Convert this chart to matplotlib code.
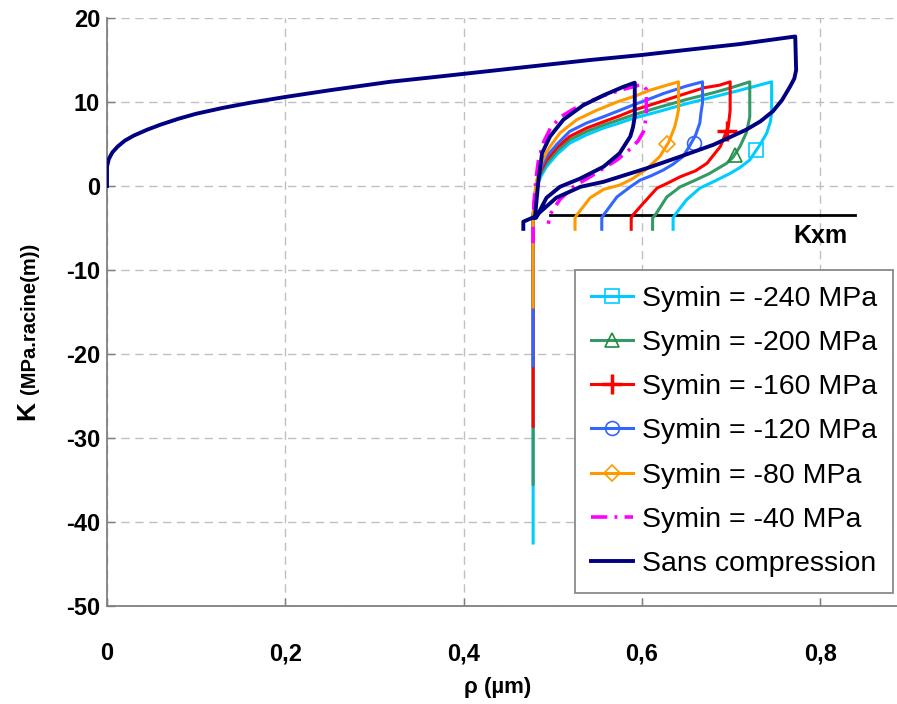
import matplotlib
matplotlib.use("Agg")
import matplotlib.pyplot as plt
import matplotlib.ticker as mticker
from matplotlib.lines import Line2D
import numpy as np

plt.rcParams["font.family"] = ["Liberation Sans", "DejaVu Sans"]
plt.rcParams["axes.unicode_minus"] = False

# ── DONNEES ─────────────────────────────────────
# Sans compression : chargement + déchargement, puis cycle suivant
rho_sans = [0.0, 0.0, 0.002, 0.006, 0.012, 0.02, 0.03, 0.045, 0.06, 0.08,
            0.1, 0.13, 0.16, 0.2, 0.25, 0.317, 0.37, 0.43, 0.49, 0.542,
            0.6, 0.65, 0.71, 0.772,
            0.773, 0.771, 0.766, 0.757, 0.747, 0.733, 0.717, 0.68, 0.643,
            0.605, 0.557, 0.531, 0.504, 0.48, 0.467, 0.467,
            np.nan,
            0.480, 0.482, 0.484, 0.488, 0.497, 0.512, 0.534, 0.557, 0.579, 0.592,
            0.592, 0.590, 0.587, 0.575, 0.557, 0.531, 0.508, 0.493, 0.482]
k_sans = [0.0, 2.3, 3.2, 4.0, 4.7, 5.4, 6.0, 6.7, 7.3, 8.0,
          8.6, 9.3, 9.9, 10.6, 11.4, 12.4, 13.0, 13.7, 14.4, 15.0,
          15.6, 16.2, 16.9, 17.8,
          13.8, 12.8, 11.8, 10.2, 8.9, 7.7, 6.7, 4.9, 3.5,
          2.1, 0.5, -0.1, -1.4, -3.65, -4.25, -5.1,
          np.nan,
          -3.8, -1.5, 0.7, 3.9, 5.9, 7.9, 9.6, 10.8, 11.8, 12.3,
          8.25, 7.0, 5.9, 3.9, 2.3, 0.9, -0.1, -1.4, -3.65]

rho_240 = [0.478, 0.478, 0.480, 0.483, 0.487, 0.493, 0.505, 0.519, 0.538, 0.557,
           0.575, 0.590, 0.620, 0.650, 0.680, 0.710, 0.7455,
           0.7455, 0.744, 0.740, 0.733, 0.726, 0.721, 0.710, 0.699, 0.680, 0.665,
           0.650, 0.637, 0.635, 0.635]
k_240 = [-42.5, -3.5, -1.5, 0.2, 1.2, 2.3, 3.8, 5.1, 6.1, 6.9,
         7.5, 8.05, 8.9, 9.8, 10.6, 11.4, 12.4,
         8.65, 7.6, 6.3, 5.0, 3.9, 3.1, 2.2, 1.5, 0.5, -0.25,
         -1.65, -3.45, -3.8, -5.15]

rho_200 = [0.478, 0.478, 0.480, 0.483, 0.487, 0.493, 0.505, 0.519, 0.538, 0.557,
           0.575, 0.590, 0.620, 0.650, 0.680, 0.700, 0.721,
           0.721, 0.719, 0.717, 0.710, 0.702, 0.695, 0.676, 0.660, 0.643, 0.628,
           0.615, 0.612, 0.612]
k_200 = [-35.5, -3.5, -1.3, 0.5, 1.6, 2.7, 4.2, 5.5, 6.5, 7.26,
         7.9, 8.45, 9.4, 10.3, 11.1, 11.7, 12.4,
         8.25, 7.2, 6.3, 4.7, 3.4, 2.7, 1.5, 0.7, -0.1, -1.3,
         -3.45, -3.8, -5.15]

rho_160 = [0.478, 0.478, 0.480, 0.483, 0.487, 0.493, 0.505, 0.519, 0.538, 0.557,
           0.575, 0.590, 0.620, 0.643, 0.670, 0.687, 0.699,
           0.699, 0.697, 0.693, 0.688, 0.673, 0.660, 0.643, 0.630, 0.617, 0.602,
           0.590, 0.588, 0.588]
k_160 = [-28.6, -3.5, -1.2, 0.7, 1.9, 3.1, 4.6, 5.9, 6.9, 7.65,
         8.35, 9.0, 10.0, 10.8, 11.7, 12.0, 12.4,
         9.05, 7.1, 6.0, 4.7, 2.7, 1.8, 1.1, 0.4, -0.25, -2.0,
         -3.45, -3.8, -5.15]

rho_120 = [0.478, 0.478, 0.480, 0.483, 0.487, 0.493, 0.505, 0.519, 0.538, 0.557,
           0.575, 0.590, 0.607, 0.624, 0.650, 0.668,
           0.668, 0.666, 0.665, 0.660, 0.652, 0.646, 0.635, 0.624, 0.610, 0.598,
           0.587, 0.572, 0.557, 0.555, 0.555]
k_120 = [-21.4, -3.5, -1.0, 0.9, 2.2, 3.5, 5.0, 6.5, 7.5, 8.25,
         9.0, 9.64, 10.3, 11.0, 11.9, 12.4,
         9.9, 8.5, 7.5, 6.0, 4.5, 3.5, 2.6, 1.9, 1.2, 0.7,
         -0.1, -1.3, -3.45, -3.8, -5.15]

rho_80 = [0.478, 0.478, 0.480, 0.483, 0.4875, 0.493, 0.497, 0.508, 0.527, 0.549,
          0.572, 0.592, 0.609, 0.628, 0.641,
          0.641, 0.639, 0.637, 0.630, 0.620, 0.605, 0.590, 0.575, 0.557, 0.542,
          0.527, 0.525, 0.525]
k_80 = [-14.4, -3.5, -0.8, 1.2, 2.8, 4.0, 4.7, 6.3, 7.9, 9.0,
        10.0, 10.7, 11.4, 12.0, 12.4,
        9.05, 8.0, 7.1, 5.2, 3.5, 2.0, 0.9, 0.1, -0.4, -1.4,
        -3.45, -3.8, -5.15]

rho_40 = [0.478, 0.478, 0.480, 0.482, 0.484, 0.490, 0.498, 0.510, 0.524, 0.540,
          0.558, 0.579, 0.600,
          0.605, 0.605, 0.603, 0.596, 0.588, 0.572, 0.545, 0.523, 0.508, 0.497, 0.495]
k_40 = [-6.8, -3.5, -0.5, 1.5, 3.1, 5.3, 7.0, 8.3, 9.2, 10.0,
        10.8, 11.5, 12.1,
        11.5, 9.0, 6.7, 5.4, 4.5, 3.1, 1.3, -0.1, -1.6, -3.4, -4.5]

# position des symboles (un seul par courbe)
marker_rho = [0.728, 0.704, 0.695, 0.658, 0.628]
marker_k = [4.3, 3.7, 6.6, 5.15, 5.0]

kxm_rho = [0.497, 0.839]
kxm_k = [-3.45, -3.45]

labels = ["Symin = -240 MPa", "Symin = -200 MPa", "Symin = -160 MPa",
          "Symin = -120 MPa", "Symin = -80 MPa", "Symin = -40 MPa",
          "Sans compression"]

# ── STYLE ───────────────────────────────────────
CYAN = "#00CCFF"
GREEN = "#339966"
RED = "#FF0000"
BLUE = "#3366FF"
ORANGE = "#FF9900"
MAGENTA = "#FF00FF"
NAVY = "#000080"
GRID = "#C0C0C0"
AXIS = "#808080"
LW = 2.2
DASH_40 = (4.5, 2.0, 0.8, 2.0)

W, H = 897, 704
fig = plt.figure(figsize=(W / 100, H / 100), dpi=100)
ax = fig.add_axes([107 / W, 1 - 606 / H, 1 - 107 / W, 588 / H])

series = [
    (rho_240, k_240, CYAN, "s", 9.5, 1.2, CYAN),
    (rho_200, k_200, GREEN, "^", 10, 1.2, "#1E8C3C"),
    (rho_160, k_160, RED, "+", 15, 2.5, RED),
    (rho_120, k_120, BLUE, "o", 10, 1.2, BLUE),
    (rho_80, k_80, ORANGE, "D", 8.5, 1.2, ORANGE),
]

handles = []
for i, (x, y, c, m, ms, mew, mc) in enumerate(series):
    ax.plot(x, y, color=c, lw=LW, zorder=3)
    ax.plot(marker_rho[i], marker_k[i], ls="none", marker=m, ms=ms, mew=mew,
            mec=mc, mfc="none", zorder=4)
    handles.append(Line2D([], [], color=c, lw=LW, marker=m, ms=ms, mew=mew,
                          mec=mc, mfc="none"))

ax.plot(rho_40, k_40, color=MAGENTA, lw=LW + 0.4, dashes=DASH_40, zorder=3)
handles.append(Line2D([], [], color=MAGENTA, lw=LW + 0.4, dashes=DASH_40))

ax.plot(rho_sans, k_sans, color=NAVY, lw=2.8, zorder=5)
handles.append(Line2D([], [], color=NAVY, lw=2.8))

ax.plot(kxm_rho, kxm_k, color="black", lw=2.0, zorder=2)
ax.text(0.80, -5.9, "Kxm", fontsize=18, fontweight="bold", ha="center",
        va="center")

# ── AXES ────────────────────────────────────────
ax.set_xlim(0, (W - 107) / 891.5)
ax.set_ylim(-50, 20)
ax.set_xticks([0, 0.2, 0.4, 0.6, 0.8])
ax.set_yticks(range(-50, 21, 10))
ax.xaxis.set_major_formatter(mticker.FuncFormatter(
    lambda v, _: "0" if v == 0 else f"{v:.1f}".replace(".", ",")))
ax.tick_params(direction="in", length=6, width=1, color=AXIS, labelsize=17)
ax.tick_params(axis="x", pad=26)
ax.tick_params(axis="y", pad=5)
for lab in ax.get_xticklabels() + ax.get_yticklabels():
    lab.set_fontweight("bold")

for s in ("top", "right"):
    ax.spines[s].set_visible(False)
for s in ("left", "bottom"):
    ax.spines[s].set_color(AXIS)
    ax.spines[s].set_linewidth(1.3)

ax.grid(True, color=GRID, lw=1.0, dashes=(6, 4))
ax.set_axisbelow(True)

fig.text(498 / W, 1 - 688 / H, "ρ (µm)", fontsize=16, fontweight="bold",
         ha="center", va="center")
fig.text(27 / W, 1 - 410 / H, "K", fontsize=19, fontweight="bold",
         rotation=90, ha="center", va="center")
fig.text(29 / W, 1 - 394 / H, "(MPa.racine(m))", fontsize=14.5,
         fontweight="bold", rotation=90, ha="center", va="bottom")

leg = ax.legend(handles, labels, loc="upper left",
                bbox_to_anchor=(575 / W, 1 - 270 / H),
                bbox_transform=fig.transFigure, fontsize=20.5,
                handlelength=1.5, handletextpad=0.3, labelspacing=0.64,
                borderpad=0.55, borderaxespad=0, fancybox=False,
                framealpha=1, edgecolor="#808080")
leg.get_frame().set_linewidth(1.2)
leg.set_zorder(10)

fig.savefig("out.png", dpi=100, facecolor="white")
